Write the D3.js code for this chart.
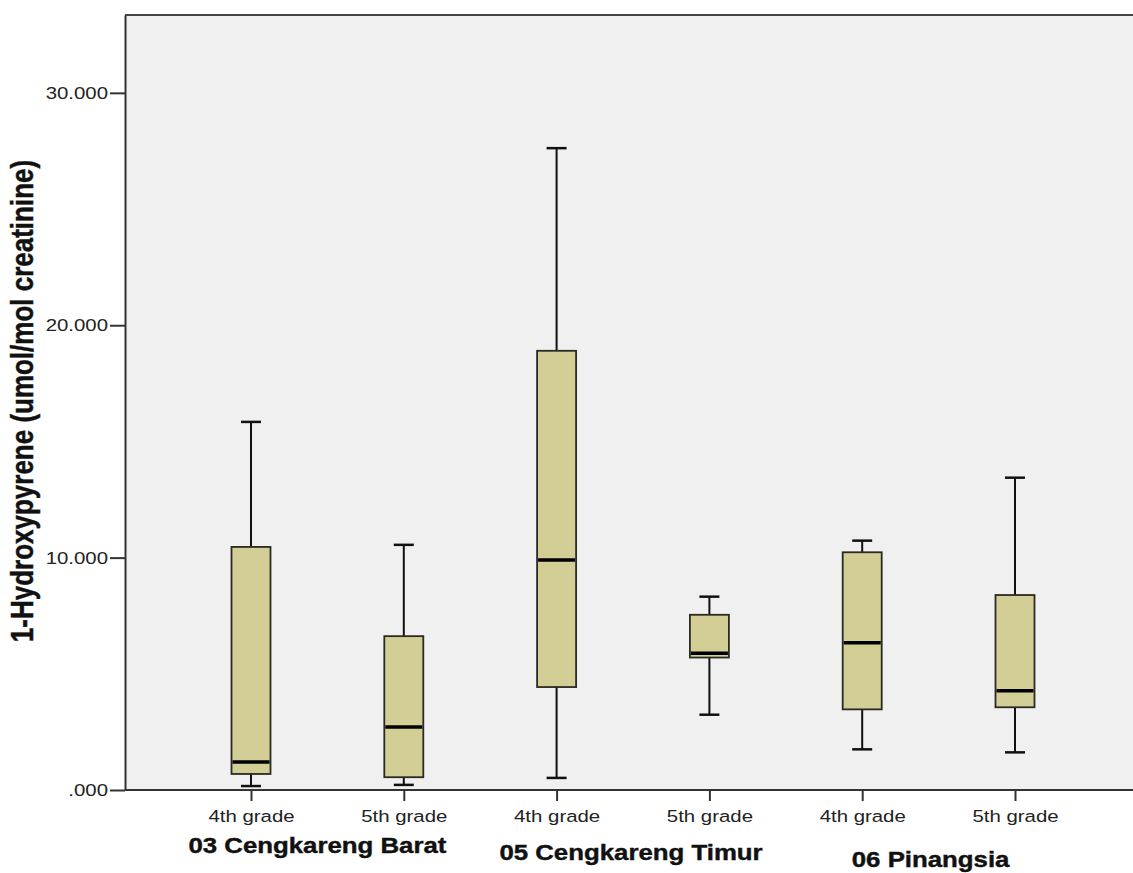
<!DOCTYPE html>
<html>
<head>
<meta charset="utf-8">
<script src="https://cdn.jsdelivr.net/npm/d3@7"></script>
<style>
  body { margin: 0; background: #fff; }
  svg { display: block; font-family: "Liberation Sans", Arial, sans-serif; }
</style>
</head>
<body>
<svg width="1133" height="873"></svg>
<script>
// Data
var groups = ["03 Cengkareng Barat", "05 Cengkareng Timur", "06 Pinangsia"];
var grades = ["4th grade", "5th grade"];
var whiskerLow  = [0.17, 0.22, 0.52, 3.24, 1.75, 1.62];
var q1          = [0.69, 0.55, 4.43, 5.70, 3.47, 3.56];
var median      = [1.20, 2.71, 9.90, 5.88, 6.34, 4.27];
var q3          = [10.46, 6.62, 18.90, 7.54, 10.23, 8.39];
var whiskerHigh = [15.84, 10.55, 27.62, 8.32, 10.73, 13.44];
var yTicks = [0, 10, 20, 30];

var svg = d3.select("svg"),
    width = +svg.attr("width"),
    height = +svg.attr("height");

var SX = 1.2; // the picture is stretched sideways, so are its texts
var plotLeft = 125, plotTop = 15, plotBottom = 790;

// one key per box
var keys = [];
groups.forEach(function (g) {
    grades.forEach(function (gr) { keys.push(g + "|" + gr) })
});
var boxes = keys.map(function (k, i) {
    return {key: k, lo: whiskerLow[i], q1: q1[i], med: median[i], q3: q3[i], hi: whiskerHigh[i]}
});

var x = d3.scalePoint()
    .domain(keys)
    .range([251, 1015]);

var y = d3.scaleLinear()
    .domain([0, 33.35])
    .range([plotBottom, plotTop]);

var boxW = 39, capW = 20;

// plot background
svg.append("rect")
    .attr("x", plotLeft)
    .attr("y", plotTop)
    .attr("width", width - plotLeft + 10)
    .attr("height", plotBottom - plotTop)
    .attr("fill", "#f0f0f0");

svg.append("line")
    .attr("x1", plotLeft).attr("x2", width + 5)
    .attr("y1", plotTop).attr("y2", plotTop)
    .attr("stroke", "#444").attr("stroke-width", 2);

// y axis
var yAxis = svg.append("g")
    .attr("transform", "translate(" + plotLeft + ",0)")
    .call(d3.axisLeft(y)
        .tickValues(yTicks)
        .tickSize(15)
        .tickSizeOuter(0)
        .tickPadding(2)
        .tickFormat(function (d) { return d === 0 ? ".000" : d3.format(".3f")(d) }));
yAxis.select(".domain").attr("stroke", "#333").attr("stroke-width", 2);
yAxis.selectAll(".tick line").attr("stroke", "#333").attr("stroke-width", 2);
yAxis.selectAll(".tick text")
    .attr("x", -17 / SX)
    .attr("transform", "scale(" + SX + ",1)")
    .style("font-size", "17px")
    .attr("fill", "#222");

// x axis
var xAxis = svg.append("g")
    .attr("transform", "translate(0," + plotBottom + ")")
    .call(d3.axisBottom(x)
        .tickSize(11)
        .tickPadding(9)
        .tickSizeOuter(0)
        .tickFormat(function (d) { return d.split("|")[1] }));
xAxis.select(".domain").attr("d", "M" + plotLeft + ",0H" + (width + 5))
    .attr("stroke", "#333").attr("stroke-width", 2);
xAxis.selectAll(".tick line").attr("stroke", "#333").attr("stroke-width", 2);
xAxis.selectAll(".tick text")
    .attr("transform", "scale(" + SX + ",1)")
    .style("font-size", "17px")
    .attr("fill", "#222");

// group labels
var groupShift = [-10, -2, -8];
var groupBase = [853, 860, 867];
svg.selectAll(".grp")
    .data(groups)
    .enter()
    .append("text")
    .attr("class", "grp")
    .attr("text-anchor", "middle")
    .attr("transform", function (d, i) {
        var cx = (x(d + "|" + grades[0]) + x(d + "|" + grades[1])) / 2 + groupShift[i];
        return "translate(" + cx + "," + groupBase[i] + ") scale(" + SX + ",1)"
    })
    .style("font-size", "21.5px")
    .style("font-weight", "bold")
    .attr("fill", "#111")
    .attr("stroke", "#111")
    .attr("stroke-width", 0.4)
    .text(function (d) { return d });

// y title
svg.append("text")
    .attr("text-anchor", "middle")
    .attr("transform", "translate(33,401) scale(" + SX + ",1) rotate(-90)")
    .style("font-size", "26px")
    .style("font-weight", "bold")
    .attr("fill", "#111")
    .attr("stroke", "#111")
    .attr("stroke-width", 0.4)
    .text("1-Hydroxypyrene (umol/mol creatinine)");

// boxes
var box = svg.append("g")
    .selectAll("g")
    .data(boxes)
    .enter()
    .append("g");

// whiskers
box.append("line")
    .attr("x1", function (d) { return x(d.key) })
    .attr("x2", function (d) { return x(d.key) })
    .attr("y1", function (d) { return y(d.lo) })
    .attr("y2", function (d) { return y(d.hi) })
    .attr("stroke", "#111")
    .attr("stroke-width", 2);

box.selectAll(".cap")
    .data(function (d) { return [d.lo, d.hi].map(function (v) { return {key: d.key, v: v} }) })
    .enter()
    .append("line")
    .attr("class", "cap")
    .attr("x1", function (d) { return x(d.key) - capW / 2 })
    .attr("x2", function (d) { return x(d.key) + capW / 2 })
    .attr("y1", function (d) { return y(d.v) })
    .attr("y2", function (d) { return y(d.v) })
    .attr("stroke", "#111")
    .attr("stroke-width", 2.5);

box.append("rect")
    .attr("x", function (d) { return x(d.key) - boxW / 2 })
    .attr("y", function (d) { return y(d.q3) })
    .attr("width", boxW)
    .attr("height", function (d) { return y(d.q1) - y(d.q3) })
    .attr("fill", "#d3ce96")
    .attr("stroke", "#2a2a22")
    .attr("stroke-width", 1.8);

box.append("line")
    .attr("x1", function (d) { return x(d.key) - boxW / 2 + 1 })
    .attr("x2", function (d) { return x(d.key) + boxW / 2 - 1 })
    .attr("y1", function (d) { return y(d.med) })
    .attr("y2", function (d) { return y(d.med) })
    .attr("stroke", "#000")
    .attr("stroke-width", 3.5);
</script>
</body>
</html>
